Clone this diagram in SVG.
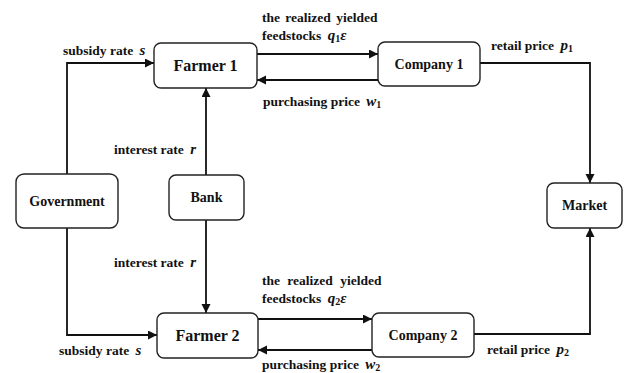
<svg xmlns="http://www.w3.org/2000/svg" width="624" height="373" viewBox="0 0 624 373">
<style>
.node rect{fill:#fff;stroke:#222;stroke-width:1.4}
.nt{font-family:"Liberation Serif",serif;font-weight:bold;font-size:14px;text-anchor:middle;fill:#111}
.big{font-size:16px}
.lb{font-family:"Liberation Serif",serif;font-weight:bold;font-size:13.5px;fill:#111}
.m{font-style:italic;font-size:15px}
.sub{font-size:10px}
#connectors path{fill:none;stroke:#111;stroke-width:1.8}
</style>
<defs>
<marker id="ah" markerUnits="userSpaceOnUse" markerWidth="10" markerHeight="10" refX="9" refY="4.5" orient="auto">
<path d="M0,0 L9,4.5 L0,9 z" fill="#111"/>
</marker>
</defs>
<rect width="624" height="373" fill="#fff"/>
<g id="connectors">
<path d="M67,174 V63 H154" marker-end="url(#ah)"/>
<path d="M67,228 V335 H157" marker-end="url(#ah)"/>
<path d="M206,175 V88" marker-end="url(#ah)"/>
<path d="M206,220 V313" marker-end="url(#ah)"/>
<path d="M257,54 H378" marker-end="url(#ah)"/>
<path d="M378,80 H257" marker-end="url(#ah)"/>
<path d="M480,63 H590 V183" marker-end="url(#ah)"/>
<path d="M258,319 H372" marker-end="url(#ah)"/>
<path d="M372,350 H258" marker-end="url(#ah)"/>
<path d="M474,334 H590 V228" marker-end="url(#ah)"/>
</g>
<g id="farmer1" class="node"><rect x="154" y="43" width="103" height="45" rx="7"/><text class="nt big" x="205.5" y="71">Farmer 1</text></g>
<g id="company1" class="node"><rect x="378" y="42" width="102" height="44" rx="7"/><text class="nt" x="429" y="69">Company 1</text></g>
<g id="government" class="node"><rect x="16" y="174" width="102" height="54" rx="8"/><text class="nt" x="67" y="206">Government</text></g>
<g id="bank" class="node"><rect x="169" y="175" width="75" height="45" rx="7"/><text class="nt" x="206.5" y="202">Bank</text></g>
<g id="market" class="node"><rect x="547" y="183" width="75" height="45" rx="7"/><text class="nt" x="584.5" y="210">Market</text></g>
<g id="farmer2" class="node"><rect x="157" y="313" width="101" height="45" rx="7"/><text class="nt big" x="207.5" y="341">Farmer 2</text></g>
<g id="company2" class="node"><rect x="372" y="313" width="102" height="44" rx="7"/><text class="nt" x="423" y="340">Company 2</text></g>
<g id="labels">
<text class="lb" x="63" y="55">subsidy rate <tspan class="m" dx="3">s</tspan></text>
<text class="lb" x="262" y="22" word-spacing="2">the realized yielded</text>
<text class="lb" x="262" y="40">feedstocks <tspan class="m" dx="3">q</tspan><tspan class="sub" dy="2">1</tspan><tspan class="m" dy="-2">ε</tspan></text>
<text class="lb" x="263" y="106">purchasing price <tspan class="m" dx="3">w</tspan><tspan class="sub" dy="2">1</tspan></text>
<text class="lb" x="491" y="50">retail price <tspan class="m" dx="3">p</tspan><tspan class="sub" dy="2">1</tspan></text>
<text class="lb" x="114" y="154">interest rate <tspan class="m" dx="3">r</tspan></text>
<text class="lb" x="114" y="267">interest rate <tspan class="m" dx="3">r</tspan></text>
<text class="lb" x="262" y="285" word-spacing="4">the realized yielded</text>
<text class="lb" x="262" y="303">feedstocks <tspan class="m" dx="3">q</tspan><tspan class="sub" dy="2">2</tspan><tspan class="m" dy="-2">ε</tspan></text>
<text class="lb" x="59" y="355">subsidy rate <tspan class="m" dx="3">s</tspan></text>
<text class="lb" x="262" y="369">purchasing price <tspan class="m" dx="3">w</tspan><tspan class="sub" dy="2">2</tspan></text>
<text class="lb" x="487" y="354">retail price <tspan class="m" dx="3">p</tspan><tspan class="sub" dy="2">2</tspan></text>
</g>
</svg>
